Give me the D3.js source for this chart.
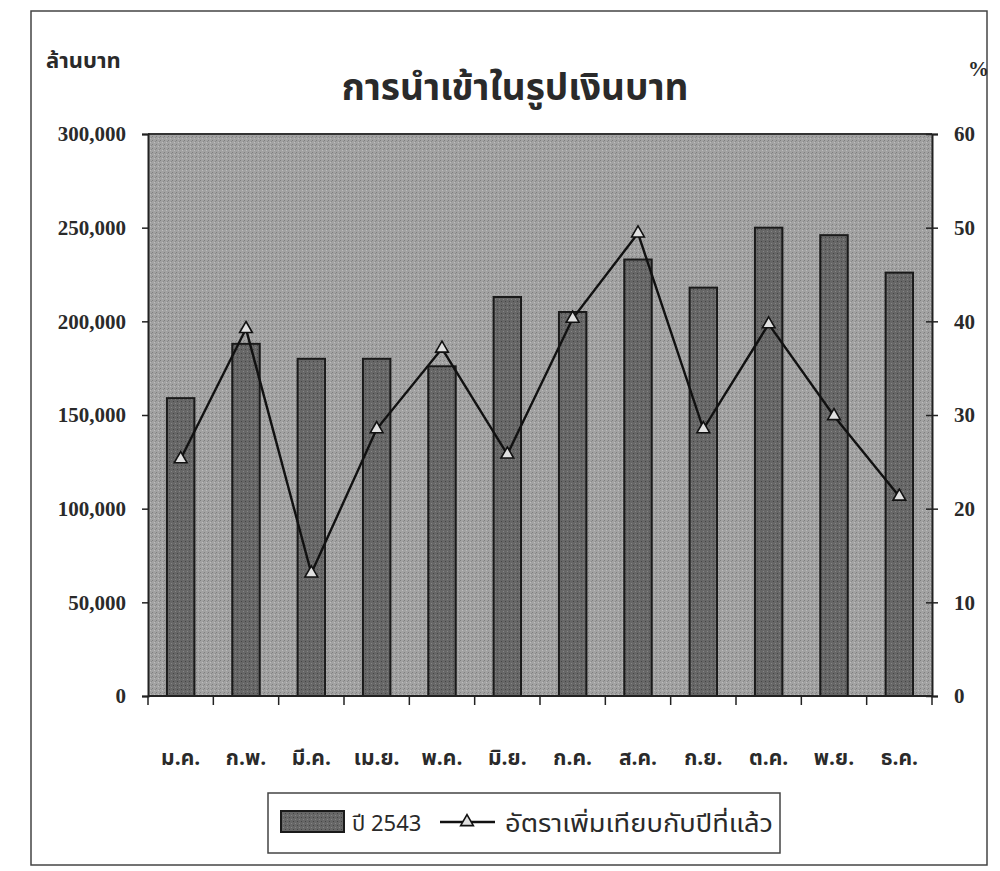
<!DOCTYPE html>
<html><head><meta charset="utf-8">
<script src="https://cdn.jsdelivr.net/npm/d3@7"></script>
<style>
body{margin:0;background:#fff;}
svg{display:block;}
.thai{font-family:"Noto Sans Thai","Tlwg Typo","Loma","Garuda","Noto Sans","DejaVu Sans",sans-serif;}
.num{font-family:"Liberation Serif","DejaVu Serif",serif;}
</style></head>
<body>
<svg id="c" width="1000" height="871"></svg>
<script>
const months = ['ม.ค.','ก.พ.','มี.ค.','เม.ย.','พ.ค.','มิ.ย.','ก.ค.','ส.ค.','ก.ย.','ต.ค.','พ.ย.','ธ.ค.'];
const imports = [159000, 188000, 180000, 180000, 176000, 213000, 205000, 233000, 218000, 250000, 246000, 226000];
const growth = [25.3, 39.2, 13.1, 28.5, 37.1, 25.8, 40.3, 49.4, 28.5, 39.7, 29.9, 21.3];
const leftTicks = [0, 50000, 100000, 150000, 200000, 250000, 300000];
const rightTicks = [0, 10, 20, 30, 40, 50, 60];
const title = 'การนำเข้าในรูปเงินบาท';
const leftUnit = 'ล้านบาท';
const rightUnit = '%';
const seriesBar = 'ปี 2543';
const seriesLine = 'อัตราเพิ่มเทียบกับปีที่แล้ว';

const svg = d3.select('#c');
const L = 148, R = 932, T = 134, B = 696;

const defs = svg.append('defs');
const bgPat = defs.append('pattern').attr('id','bgp').attr('patternUnits','userSpaceOnUse').attr('width',4).attr('height',4);
bgPat.append('rect').attr('width',4).attr('height',4).attr('fill','#a2a2a2');
bgPat.append('rect').attr('x',0).attr('y',0).attr('width',1).attr('height',1).attr('fill','#7e7e7e');
bgPat.append('rect').attr('x',2).attr('y',2).attr('width',1).attr('height',1).attr('fill','#bdbdbd');
bgPat.append('rect').attr('x',3).attr('y',1).attr('width',1).attr('height',1).attr('fill','#8a8a8a');
const barPat = defs.append('pattern').attr('id','barp').attr('patternUnits','userSpaceOnUse').attr('width',4).attr('height',4);
barPat.append('rect').attr('width',4).attr('height',4).attr('fill','#676767');
barPat.append('rect').attr('x',1).attr('y',1).attr('width',1).attr('height',1).attr('fill','#454545');
barPat.append('rect').attr('x',3).attr('y',3).attr('width',1).attr('height',1).attr('fill','#858585');

// outer frame
svg.append('rect').attr('x',31).attr('y',11).attr('width',956).attr('height',854)
  .attr('fill','none').attr('stroke','#444').attr('stroke-width',1.5);

const x = d3.scaleBand().domain(months).range([L, R]).paddingInner(0.58).paddingOuter(0.29);
const yL = d3.scaleLinear().domain([0, 300000]).range([B, T]);
const yR = d3.scaleLinear().domain([0, 60]).range([B, T]);

// plot background
svg.append('rect').attr('x',L).attr('y',T).attr('width',R-L).attr('height',B-T).attr('fill','url(#bgp)');
svg.append('line').attr('x1',L).attr('x2',R).attr('y1',T).attr('y2',T).attr('stroke','#333').attr('stroke-width',2);

// bars
svg.append('g').selectAll('rect').data(imports).join('rect')
  .attr('x',(d,i)=>x(months[i])).attr('width',x.bandwidth())
  .attr('y',d=>yL(d)).attr('height',d=>B-yL(d))
  .attr('fill','url(#barp)').attr('stroke','#1a1a1a').attr('stroke-width',2);

// left axis
const gl = svg.append('g').attr('transform',`translate(${L},0)`)
  .call(d3.axisLeft(yL).tickValues(leftTicks).tickSize(6).tickPadding(16).tickFormat(d3.format(',')));
gl.select('.domain').attr('stroke','#222').attr('stroke-width',2);
gl.selectAll('.tick line').attr('stroke','#222').attr('stroke-width',1.5);
gl.selectAll('text').attr('class','num').attr('font-size',21).attr('font-weight','bold').attr('fill','#2a2a2a');

// right axis
const gr = svg.append('g').attr('transform',`translate(${R},0)`)
  .call(d3.axisRight(yR).tickValues(rightTicks).tickSize(6).tickPadding(16));
gr.select('.domain').attr('stroke','#222').attr('stroke-width',2);
gr.selectAll('.tick line').attr('x1',-6).attr('stroke','#222').attr('stroke-width',1.5);
gr.selectAll('text').attr('class','num').attr('font-size',21).attr('font-weight','bold').attr('fill','#2a2a2a');

// bottom axis
const xPos = d3.scalePoint().domain(d3.range(13)).range([L, R]);
const gb = svg.append('g');
gb.append('line').attr('x1',L).attr('x2',R).attr('y1',B).attr('y2',B).attr('stroke','#222').attr('stroke-width',2);
gb.selectAll('line.t').data(d3.range(13)).join('line').attr('class','t')
  .attr('x1',d=>xPos(d)).attr('x2',d=>xPos(d)).attr('y1',B).attr('y2',B+9)
  .attr('stroke','#222').attr('stroke-width',1.5);
gb.selectAll('text').data(months).join('text').attr('class','thai')
  .attr('x',d=>x(d)+x.bandwidth()/2).attr('y',765).attr('text-anchor','middle')
  .attr('font-size',21).attr('font-weight','bold').attr('fill','#2a2a2a').text(d=>d);

// line
const cx = (i)=>x(months[i])+x.bandwidth()/2;
svg.append('path').datum(growth)
  .attr('d', d3.line().x((d,i)=>cx(i)).y(d=>yR(d)))
  .attr('fill','none').attr('stroke','#111').attr('stroke-width',2.4);
const tri = d3.symbol().type(d3.symbolTriangle).size(70);
svg.append('g').selectAll('path').data(growth).join('path')
  .attr('d',tri).attr('transform',(d,i)=>`translate(${cx(i)},${yR(d)})`)
  .attr('fill','#e0e0e0').attr('stroke','#111').attr('stroke-width',1.6);

// titles
svg.append('text').attr('class','thai').attr('x',515).attr('y',100).attr('text-anchor','middle')
  .attr('font-size',37).attr('font-weight','bold').attr('fill','#2a2a2a').text(title);
svg.append('text').attr('class','thai').attr('x',46).attr('y',68)
  .attr('font-size',22).attr('font-weight','bold').attr('fill','#2a2a2a').text(leftUnit);
svg.append('text').attr('class','num').attr('x',968).attr('y',76)
  .attr('font-size',21).attr('font-weight','bold').attr('fill','#2a2a2a').text(rightUnit);

// legend
const lg = svg.append('g');
lg.append('rect').attr('x',268).attr('y',793).attr('width',512).attr('height',60)
  .attr('fill','#fff').attr('stroke','#444').attr('stroke-width',1.5);
lg.append('rect').attr('x',281).attr('y',811).attr('width',63).attr('height',21)
  .attr('fill','url(#barp)').attr('stroke','#1a1a1a').attr('stroke-width',2);
lg.append('text').attr('class','thai').attr('x',352).attr('y',831)
  .attr('font-size',22).attr('fill','#2a2a2a').text(seriesBar);
lg.append('line').attr('x1',440).attr('x2',495).attr('y1',822).attr('y2',822).attr('stroke','#111').attr('stroke-width',2.4);
lg.append('path').attr('d',tri).attr('transform','translate(467,822)')
  .attr('fill','#e0e0e0').attr('stroke','#111').attr('stroke-width',1.6);
lg.append('text').attr('class','thai').attr('x',505).attr('y',832)
  .attr('font-size',24).attr('textLength',268).attr('lengthAdjust','spacingAndGlyphs')
  .attr('fill','#2a2a2a').text(seriesLine);
</script>
</body></html>
